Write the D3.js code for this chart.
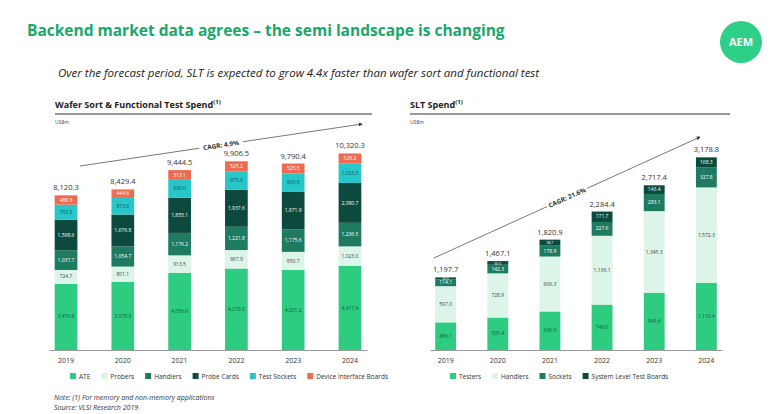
<!DOCTYPE html>
<html><head><meta charset="utf-8">
<script src="https://cdn.jsdelivr.net/npm/d3@7"></script>
<style>body{margin:0;background:#fff;font-family:"Open Sans",sans-serif}</style>
</head><body><svg id="c" width="770" height="414"></svg>
<script>
// data
const years = ["2019","2020","2021","2022","2023","2024"];
const waferKeys = ["ATE","Probers","Handlers","Probe Cards","Test Sockets","Device Interface Boards"];
const ate      = [3476.9,3578.6,4056.6,4279.0,4201.2,4417.4];
const probers  = [724.7,801.1,913.5,967.9,950.7,1023.0];
const handlers = [1037.7,1054.7,1176.2,1221.8,1175.6,1236.5];
const probeCards = [1598.6,1676.8,1855.1,1937.6,1971.9,2090.7];
const sockets  = [793.5,873.6,930.0,975.0,965.5,1023.5];
const dib      = [488.9,444.6,513.1,525.2,525.5,529.2];
const waferTotals = ["8,120.3","8,429.4","9,444.5","9,906.5","9,790.4","10,320.3"];

const sltKeys = ["Testers","Handlers","Sockets","System Level Test Boards"];
const sltTesters = [456.1,535.4,636.0,749.0,945.6,1110.4];
const sltHandlers = [597.0,728.9,906.3,1136.1,1345.3,1572.3];
const sltSockets = [114.1,142.3,179.9,227.6,283.1,327.8];
const sltBoards = [30.5,60.5,98.7,171.7,143.4,168.3];
const sltTotals = ["1,197.7","1,467.1","1,820.9","2,284.4","2,717.4","3,178.8"];

const svg = d3.select("#c");
const green = "#1aa86a";
svg.append("text").attr("x",27).attr("y",36).attr("fill",green).attr("font-size",15.5)
  .attr("font-weight","bold").text("Backend market data agrees – the semi landscape is changing");
svg.append("circle").attr("cx",741).attr("cy",42).attr("r",21).attr("fill","#2ecf86");
svg.append("text").attr("x",741).attr("y",46).attr("text-anchor","middle").attr("fill","#fff")
  .attr("font-size",11).attr("font-weight","bold").text("AEM");
svg.append("text").attr("x",58).attr("y",77).attr("font-size",11.5).attr("font-style","italic").attr("fill","#222")
  .text("Over the forecast period, SLT is expected to grow 4.4x faster than wafer sort and functional test");

function fmt(v){return d3.format(",.1f")(v);}

function chart(tx,tx1,x0,x1,title,keys,series,colors,textCols,totals,ymax,cagr,cagrPts,legendX){
  svg.append("text").attr("x",tx).attr("y",108).attr("font-size",9).attr("font-weight","bold").attr("fill","#222")
    .text(title).append("tspan").attr("font-size",6).attr("dy",-4).text("(1)");
  svg.append("line").attr("x1",tx).attr("x2",tx1).attr("y1",114).attr("y2",114).attr("stroke","#333").attr("stroke-width",1);
  svg.append("text").attr("x",tx).attr("y",124).attr("font-size",5).attr("fill","#444").text("US$m");
  const x = d3.scaleBand().domain(years).range([x0,x1]).paddingInner(0.6).paddingOuter(0.1);
  const y = d3.scaleLinear().domain([0,ymax]).range([350,150]);
  const rows = years.map((yr,i)=>{const o={year:yr};keys.forEach((k,j)=>o[k]=series[j][i]);return o;});
  const stack = d3.stack().keys(keys)(rows);
  const g = svg.append("g");
  stack.forEach((s,j)=>{
    g.selectAll(null).data(s).join("rect").attr("x",d=>x(d.data.year)).attr("width",x.bandwidth())
      .attr("y",d=>y(d[1])).attr("height",d=>y(d[0])-y(d[1])).attr("fill",colors[j]);
    g.selectAll(null).data(s).join("text").attr("x",d=>x(d.data.year)+x.bandwidth()/2)
      .attr("y",d=>(y(d[0])+y(d[1]))/2+1.6).attr("text-anchor","middle")
      .attr("font-size",d=>(y(d[0])-y(d[1]))<6?3.4:5).attr("fill",textCols[j])
      .text(d=>fmt(d[1]-d[0]));
  });
  g.selectAll(null).data(stack[stack.length-1]).join("text").attr("x",d=>x(d.data.year)+x.bandwidth()/2)
    .attr("y",d=>y(d[1])-5).attr("text-anchor","middle").attr("font-size",7.5).attr("fill","#333")
    .text((d,i)=>totals[i]);
  svg.append("g").attr("transform","translate(0,350)").call(d3.axisBottom(x).tickSize(0).tickPadding(8))
    .call(a=>a.select(".domain").attr("stroke","#999"))
    .call(a=>a.selectAll("text").attr("font-size",7).attr("fill","#333").attr("font-family","Open Sans"));
  // CAGR arrow
  const [ax1,ay1,ax2,ay2] = cagrPts;
  svg.append("defs").append("marker").attr("id","m"+x0).attr("viewBox","0 0 6 6").attr("refX",5).attr("refY",3)
    .attr("markerWidth",5).attr("markerHeight",5).attr("orient","auto")
    .append("path").attr("d","M0,0L6,3L0,6z").attr("fill","#333");
  svg.append("line").attr("x1",ax1).attr("y1",ay1).attr("x2",ax2).attr("y2",ay2).attr("stroke","#555")
    .attr("stroke-width",0.8).attr("marker-end","url(#m"+x0+")");
  const mx=(ax1+ax2)/2, my=(ay1+ay2)/2, ang=Math.atan2(ay2-ay1,ax2-ax1)*180/Math.PI;
  svg.append("rect").attr("x",mx-22).attr("y",my-6).attr("width",44).attr("height",12).attr("fill","#fff")
    .attr("transform",`rotate(${ang},${mx},${my})`);
  svg.append("text").attr("x",mx).attr("y",my+2.5).attr("text-anchor","middle").attr("font-size",6.5)
    .attr("font-weight","bold").attr("fill","#333").attr("transform",`rotate(${ang},${mx},${my})`).text(cagr);
  // legend
  let lx = legendX;
  keys.forEach((k,j)=>{
    svg.append("rect").attr("x",lx).attr("y",373).attr("width",6).attr("height",6).attr("fill",colors[j]);
    const t = svg.append("text").attr("x",lx+9).attr("y",379).attr("font-size",6.5).attr("fill","#333").text(k);
    lx += 9 + t.node().getComputedTextLength() + 11;
  });
}

chart(55,372,49,367,"Wafer Sort & Functional Test Spend",waferKeys,[ate,probers,handlers,probeCards,sockets,dib],
  ["#2ecc80","#dcf5e8","#1e7a60","#0b4a3d","#27c6c9","#ee6b4f"],
  ["#0d5c3a","#444","#fff","#fff","#0a5a5a","#fff"],waferTotals,10500,"CAGR: 4.9%",[80,166,362,124],70);
chart(410,730,430,722,"SLT Spend",sltKeys,[sltTesters,sltHandlers,sltSockets,sltBoards],
  ["#2ecc80","#dcf5e8","#1e7a60","#0b4a3d"],["#0d5c3a","#444","#fff","#fff"],sltTotals,3300,"CAGR: 21.6%",[434,258,700,137],450);

svg.append("text").attr("x",54).attr("y",400).attr("font-size",7).attr("font-style","italic").attr("fill","#333")
  .text("Note: (1) For memory and non-memory applications");
svg.append("text").attr("x",54).attr("y",410).attr("font-size",7).attr("font-style","italic").attr("fill","#333")
  .text("Source: VLSI Research 2019");
</script></body></html>
